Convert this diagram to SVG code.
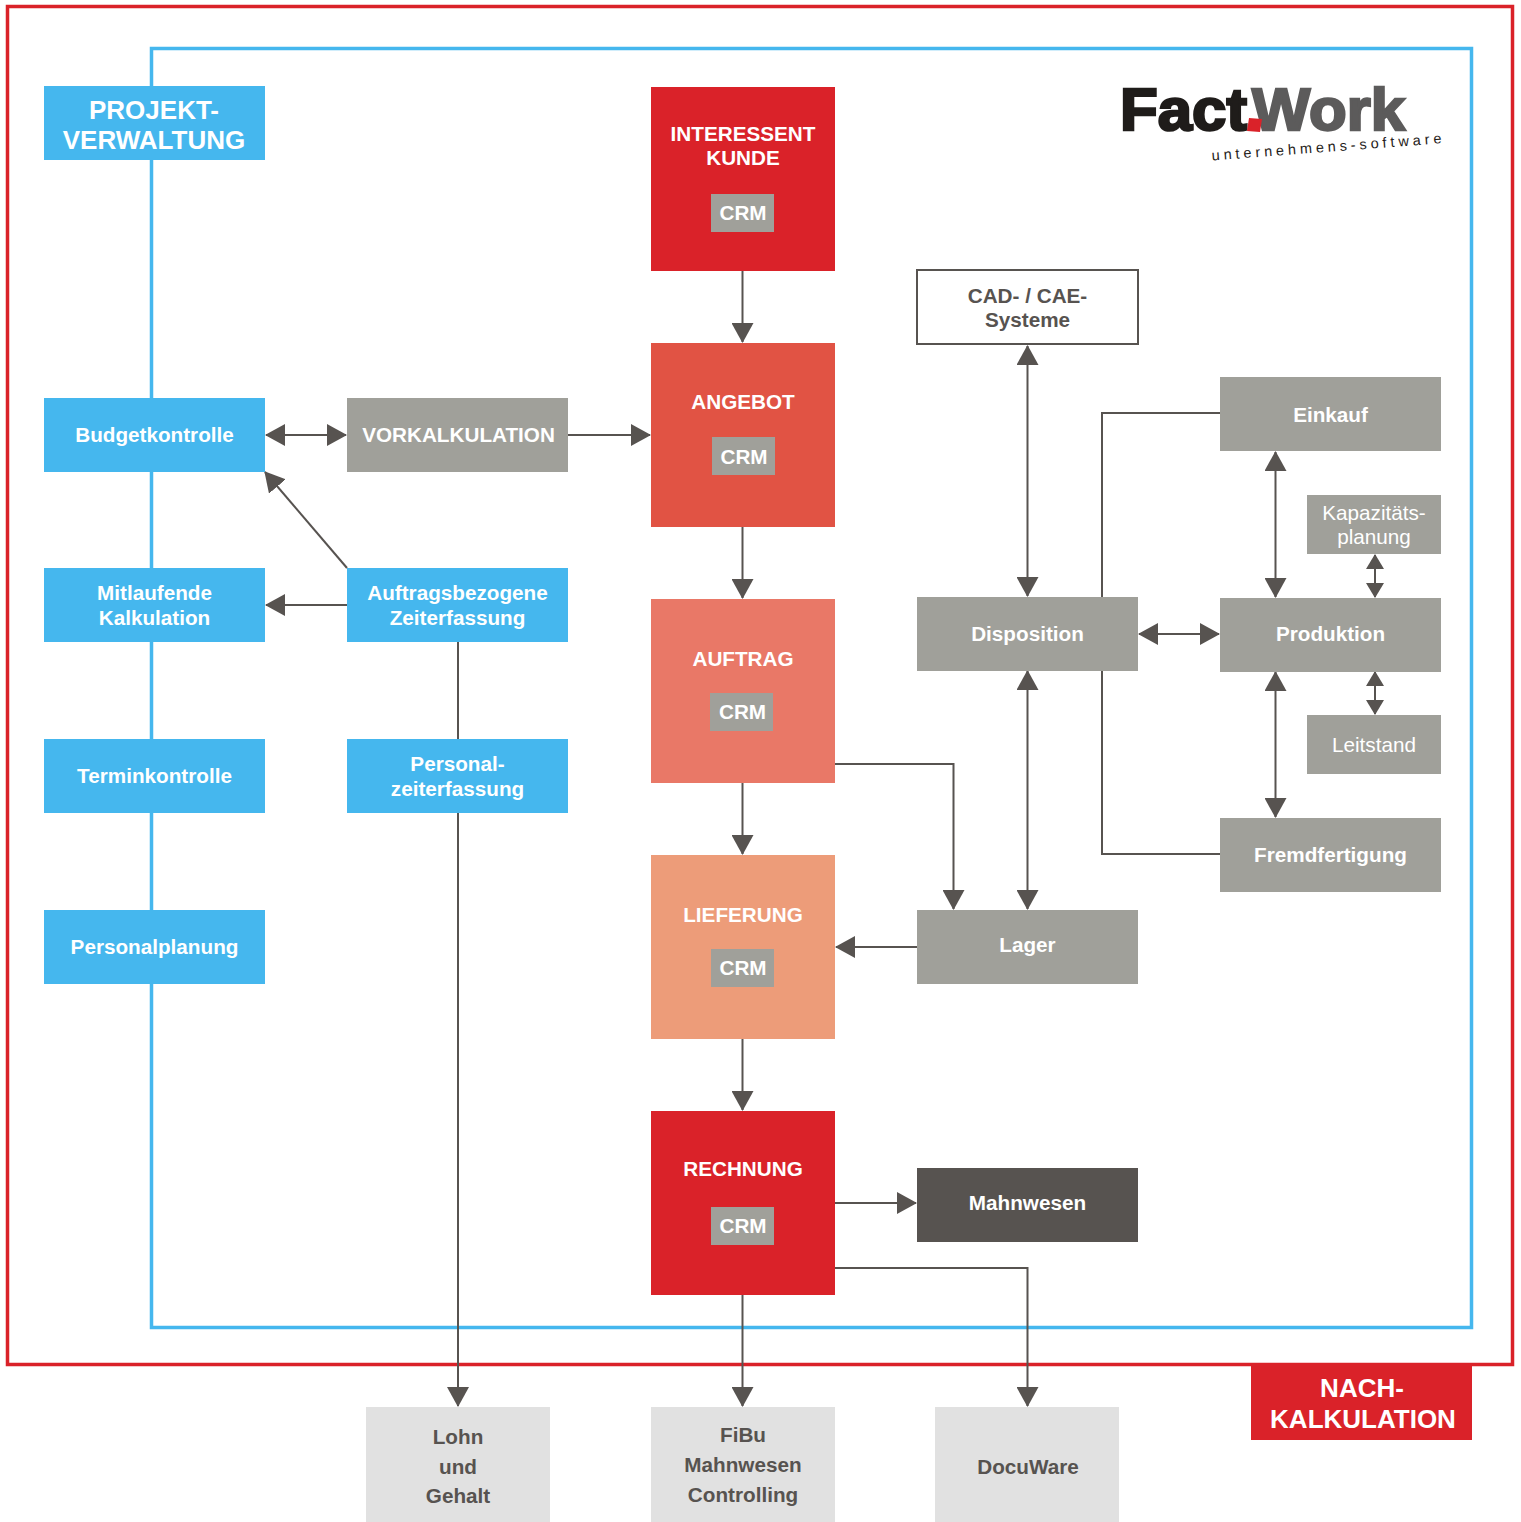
<svg xmlns="http://www.w3.org/2000/svg" width="1521" height="1522" viewBox="0 0 1521 1522">
<style>
text{font-family:"Liberation Sans",Arial,sans-serif;font-weight:700;font-size:20.700px;text-anchor:middle;fill:#fff}
.big{font-size:26px}
.thin{font-weight:400}
.dk{fill:#575350}
.c{fill:none;stroke:#575350;stroke-width:2}
.bl{fill:#45b7ee}.gr{fill:#a0a09a}.rd{fill:#da2229}.lg{fill:#e1e1e1}
</style>
<defs>
<marker id="a" markerUnits="userSpaceOnUse" markerWidth="20" markerHeight="22" refX="19" refY="11" orient="auto-start-reverse" viewBox="0 0 20 22"><path d="M0 0L20 11L0 22Z" fill="#575350"/></marker>
<marker id="s" markerUnits="userSpaceOnUse" markerWidth="15" markerHeight="18" refX="14" refY="9" orient="auto-start-reverse" viewBox="0 0 15 18"><path d="M0 0L15 9L0 18Z" fill="#575350"/></marker>
</defs>
<rect width="1521" height="1522" fill="#fff"/>
<g id="frames" fill="none">
<rect x="7.500" y="6.500" width="1505" height="1358" stroke="#da2229" stroke-width="3.500"/>
<rect x="151.500" y="48.500" width="1320" height="1279" stroke="#45b7ee" stroke-width="3.500"/>
</g>
<g id="connectors">
<path class="c" d="M742.500 271V342" marker-end="url(#a)"/>
<path class="c" d="M742.500 527V598" marker-end="url(#a)"/>
<path class="c" d="M742.500 783V854" marker-end="url(#a)"/>
<path class="c" d="M742.500 1039V1110" marker-end="url(#a)"/>
<path class="c" d="M742.500 1295V1406" marker-end="url(#a)"/>
<path class="c" d="M266 435H346" marker-start="url(#a)" marker-end="url(#a)"/>
<path class="c" d="M568 435H650" marker-end="url(#a)"/>
<path class="c" d="M347 605H266" marker-end="url(#a)"/>
<path class="c" d="M347 568L265 472" marker-end="url(#a)"/>
<path class="c" d="M458 642V1406" marker-end="url(#a)"/>
<path class="c" d="M835 764H953.500V909" marker-end="url(#a)"/>
<path class="c" d="M917 947H836" marker-end="url(#a)"/>
<path class="c" d="M835 1203H916" marker-end="url(#a)"/>
<path class="c" d="M835 1268H1027.500V1406" marker-end="url(#a)"/>
<path class="c" d="M1027.500 346V596" marker-start="url(#a)" marker-end="url(#a)"/>
<path class="c" d="M1027.500 671V909" marker-start="url(#a)" marker-end="url(#a)"/>
<path class="c" d="M1139 634H1219" marker-start="url(#a)" marker-end="url(#a)"/>
<path class="c" d="M1275.500 452V597" marker-start="url(#a)" marker-end="url(#a)"/>
<path class="c" d="M1275.500 672V817" marker-start="url(#a)" marker-end="url(#a)"/>
<path class="c" d="M1375 555V597" marker-start="url(#s)" marker-end="url(#s)"/>
<path class="c" d="M1375 672V714" marker-start="url(#s)" marker-end="url(#s)"/>
<path class="c" d="M1220 413H1102V597"/>
<path class="c" d="M1102 671V854H1220"/>
</g>
<g id="projektverwaltung"><rect class="bl" x="44" y="86" width="221" height="74"/><text class="big" x="154" y="119">PROJEKT-</text><text class="big" x="154" y="149">VERWALTUNG</text></g>
<g id="budgetkontrolle"><rect class="bl" x="44" y="398" width="221" height="74"/><text x="154.500" y="442">Budgetkontrolle</text></g>
<g id="mitlaufende"><rect class="bl" x="44" y="568" width="221" height="74"/><text x="154.500" y="600">Mitlaufende</text><text x="154.500" y="625">Kalkulation</text></g>
<g id="terminkontrolle"><rect class="bl" x="44" y="739" width="221" height="74"/><text x="154.500" y="783">Terminkontrolle</text></g>
<g id="personalplanung"><rect class="bl" x="44" y="910" width="221" height="74"/><text x="154.500" y="954">Personalplanung</text></g>
<g id="vorkalkulation"><rect class="gr" x="347" y="398" width="221" height="74"/><text x="458.500" y="442">VORKALKULATION</text></g>
<g id="auftragszeit"><rect class="bl" x="347" y="568" width="221" height="74"/><text x="457.500" y="600">Auftragsbezogene</text><text x="457.500" y="625">Zeiterfassung</text></g>
<g id="personalzeit"><rect class="bl" x="347" y="739" width="221" height="74"/><text x="457.500" y="771">Personal-</text><text x="457.500" y="796">zeiterfassung</text></g>
<g id="interessent"><rect class="rd" x="651" y="87" width="184" height="184"/><text x="743" y="141">INTERESSENT</text><text x="743" y="165">KUNDE</text><rect class="gr" x="711" y="194" width="63" height="38"/><text x="743" y="220">CRM</text></g>
<g id="angebot"><rect x="651" y="343" width="184" height="184" fill="#e15344"/><text x="743" y="409">ANGEBOT</text><rect class="gr" x="712" y="437" width="63" height="38"/><text x="744" y="464">CRM</text></g>
<g id="auftrag"><rect x="651" y="599" width="184" height="184" fill="#e97867"/><text x="743" y="666">AUFTRAG</text><rect class="gr" x="710" y="693" width="63" height="38"/><text x="742.500" y="719">CRM</text></g>
<g id="lieferung"><rect x="651" y="855" width="184" height="184" fill="#ed9c79"/><text x="743" y="922">LIEFERUNG</text><rect class="gr" x="711" y="949" width="63" height="38"/><text x="743" y="975">CRM</text></g>
<g id="rechnung"><rect class="rd" x="651" y="1111" width="184" height="184"/><text x="743" y="1176">RECHNUNG</text><rect class="gr" x="711" y="1207" width="63" height="38"/><text x="743" y="1233">CRM</text></g>
<g id="cad"><rect x="917" y="270" width="221" height="74" fill="#fff" stroke="#575350" stroke-width="2"/><text class="dk" x="1027.500" y="303">CAD- / CAE-</text><text class="dk" x="1027.500" y="327">Systeme</text></g>
<g id="disposition"><rect class="gr" x="917" y="597" width="221" height="74"/><text x="1027.500" y="641">Disposition</text></g>
<g id="lager"><rect class="gr" x="917" y="910" width="221" height="74"/><text x="1027.500" y="952">Lager</text></g>
<g id="mahnwesen"><rect x="917" y="1168" width="221" height="74" fill="#575350"/><text x="1027.500" y="1210">Mahnwesen</text></g>
<g id="einkauf"><rect class="gr" x="1220" y="377" width="221" height="74"/><text x="1330.500" y="422">Einkauf</text></g>
<g id="kapazitaet"><rect class="gr" x="1307" y="495" width="134" height="59"/><text class="thin" x="1374" y="520">Kapazitäts-</text><text class="thin" x="1374" y="544">planung</text></g>
<g id="produktion"><rect class="gr" x="1220" y="598" width="221" height="74"/><text x="1330.500" y="641">Produktion</text></g>
<g id="leitstand"><rect class="gr" x="1307" y="715" width="134" height="59"/><text class="thin" x="1374" y="752">Leitstand</text></g>
<g id="fremdfertigung"><rect class="gr" x="1220" y="818" width="221" height="74"/><text x="1330.500" y="862">Fremdfertigung</text></g>
<g id="lohn"><rect class="lg" x="366" y="1407" width="184" height="115"/><text class="dk" x="458" y="1444">Lohn</text><text class="dk" x="458" y="1474">und</text><text class="dk" x="458" y="1503">Gehalt</text></g>
<g id="fibu"><rect class="lg" x="651" y="1407" width="184" height="115"/><text class="dk" x="743" y="1442">FiBu</text><text class="dk" x="743" y="1472">Mahnwesen</text><text class="dk" x="743" y="1502">Controlling</text></g>
<g id="docuware"><rect class="lg" x="935" y="1407" width="184" height="115"/><text class="dk" x="1028" y="1474">DocuWare</text></g>
<g id="nachkalkulation"><rect class="rd" x="1251" y="1364" width="221" height="76"/><text class="big" x="1362" y="1397">NACH-</text><text class="big" x="1363" y="1428">KALKULATION</text></g>
<g id="logo">
<text x="1120" y="130" style="text-anchor:start;font-size:60px;fill:#1f1c1a;stroke:#1f1c1a;stroke-width:2.500" textLength="127" lengthAdjust="spacingAndGlyphs">Fact</text>
<text x="1252" y="130" style="text-anchor:start;font-size:60px;fill:#5c5b5b;stroke:#5c5b5b;stroke-width:2.500" textLength="153" lengthAdjust="spacingAndGlyphs">Work</text>
<path d="M1249 118L1262 119L1260 132L1247 131Z" fill="#da2229"/>
<text transform="translate(1212 160.500) rotate(-4.300)" style="text-anchor:start;font-weight:400;font-size:14.500px;letter-spacing:3.900px;fill:#1f1c1a">unternehmens-software</text>
</g>
</svg>
